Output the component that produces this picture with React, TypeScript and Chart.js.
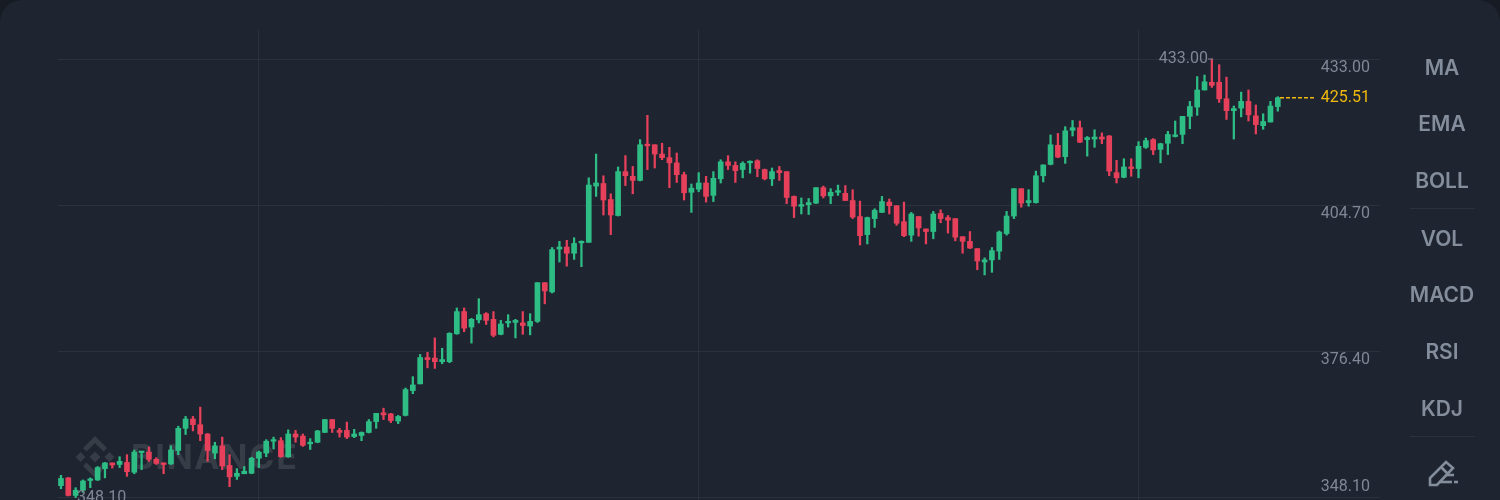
import { useEffect, useRef } from 'react';
import { Chart, registerables, type Plugin } from 'chart.js';

Chart.register(...registerables);

const opens = [
  350.4, 351.9, 348.5, 349.5, 351.4, 351.5, 353.7, 354.8, 354.5, 354.9,
  353.0, 356.8, 356.9, 355.5, 354.8, 354.6, 357.2, 361.5, 363.3, 362.2,
  360.4, 356.7, 358.1, 354.3, 352.2, 352.7, 352.8, 355.7, 356.7, 359.0,
  359.1, 356.0, 360.4, 360.0, 358.5, 358.8, 360.7, 363.2, 361.1, 361.1,
  359.9, 360.1, 360.7, 362.8, 364.5, 364.3, 362.9, 364.0, 368.8, 370.1,
  375.2, 375.1, 374.4, 374.4, 379.8, 384.1, 381.1, 382.5, 383.7, 382.6,
  379.7, 381.9, 382.0, 381.9, 381.3, 382.2, 389.7, 387.9, 396.2, 396.6,
  395.4, 397.4, 397.5, 408.4, 408.9, 405.8, 402.7, 411.2, 410.3, 409.5,
  416.4, 416.4, 414.6, 413.9, 412.9, 410.6, 407.2, 407.8, 409.0, 406.6,
  409.8, 413.1, 412.4, 411.6, 412.9, 413.3, 411.6, 409.8, 411.4, 411.2,
  406.4, 404.5, 404.8, 405.1, 408.1, 406.5, 407.2, 407.0, 405.6, 402.5,
  399.0, 402.1, 403.3, 405.3, 404.6, 401.5, 398.9, 402.5, 400.1, 399.6,
  403.1, 402.3, 402.1, 398.6, 397.7, 396.3, 393.7, 394.1, 395.8, 399.2,
  402.6, 407.9, 405.2, 405.2, 410.4, 412.6, 416.3, 414.1, 419.2, 419.7,
  417.4, 417.5, 417.9, 418.1, 411.0, 410.1, 412.1, 411.8, 415.9, 417.4,
  415.5, 416.7, 418.0, 418.4, 421.9, 423.7, 427.0, 428.5, 428.5, 425.3,
  423.0, 423.5, 424.8, 422.0, 420.1, 420.8, 423.8,
];

const closes = [
  351.8, 348.5, 349.5, 351.3, 351.7, 353.9, 354.8, 354.4, 355.1, 353.1,
  356.9, 357.0, 355.5, 354.7, 354.5, 357.3, 361.5, 363.3, 362.2, 360.4,
  357.2, 358.1, 354.2, 352.1, 352.8, 353.2, 355.7, 356.9, 359.0, 359.3,
  356.0, 360.4, 359.8, 358.2, 358.8, 361.0, 363.2, 361.5, 360.7, 359.8,
  360.4, 360.7, 362.8, 364.4, 364.1, 363.0, 363.8, 369.0, 369.9, 375.2,
  374.8, 374.4, 374.8, 379.9, 384.1, 380.9, 382.6, 383.5, 382.4, 379.5,
  381.7, 382.2, 382.4, 381.4, 382.2, 389.7, 388.1, 396.1, 396.6, 395.4,
  397.3, 397.7, 408.6, 409.0, 405.7, 402.8, 411.2, 410.4, 409.5, 416.4,
  416.2, 414.6, 413.9, 412.9, 410.6, 407.1, 408.0, 409.0, 406.4, 409.9,
  413.1, 412.4, 411.4, 412.8, 413.2, 411.8, 409.8, 411.2, 411.0, 406.2,
  404.5, 404.8, 405.2, 408.1, 406.5, 407.2, 407.5, 405.6, 402.4, 398.8,
  402.3, 403.7, 405.4, 404.6, 401.2, 398.8, 403.0, 400.3, 399.6, 403.0,
  402.1, 401.8, 398.5, 397.7, 396.4, 393.9, 394.1, 395.9, 399.5, 402.6,
  407.9, 405.1, 405.6, 410.4, 412.5, 416.4, 414.0, 419.1, 419.7, 416.9,
  417.8, 417.9, 417.5, 411.3, 410.0, 412.1, 411.8, 416.1, 417.2, 415.4,
  416.6, 418.4, 418.3, 421.9, 423.8, 427.0, 428.6, 427.9, 425.3, 423.0,
  423.4, 424.8, 422.2, 420.3, 420.9, 423.9, 425.51,
];

const highs = [
  352.4, 352.0, 350.0, 351.5, 351.9, 354.1, 354.9, 354.8, 356.0, 356.4,
  357.3, 357.0, 357.9, 355.8, 354.8, 358.1, 361.9, 363.8, 363.8, 365.6,
  360.5, 358.8, 359.8, 356.4, 353.7, 354.1, 355.9, 357.1, 359.3, 359.8,
  359.7, 361.2, 361.1, 360.4, 359.5, 361.1, 363.2, 363.2, 361.5, 362.7,
  361.3, 360.8, 363.2, 364.4, 365.4, 364.4, 364.0, 369.3, 371.5, 375.8,
  376.2, 379.0, 377.0, 380.0, 384.8, 384.8, 382.8, 386.6, 383.9, 384.1,
  382.4, 383.5, 382.6, 384.1, 383.7, 389.7, 389.7, 396.5, 397.7, 397.9,
  398.4, 397.8, 410.0, 414.6, 410.4, 406.9, 412.1, 414.3, 412.2, 417.4,
  422.1, 416.4, 416.7, 415.9, 414.8, 411.1, 408.8, 411.0, 410.3, 411.2,
  413.5, 414.3, 413.1, 413.1, 413.3, 413.5, 411.7, 411.9, 412.2, 411.2,
  406.5, 406.1, 406.0, 408.1, 408.4, 407.9, 408.6, 408.5, 407.7, 405.5,
  402.4, 404.0, 406.4, 405.9, 404.6, 405.3, 403.3, 402.5, 400.1, 403.5,
  403.8, 402.7, 402.1, 398.6, 399.6, 396.3, 394.5, 396.5, 399.7, 403.5,
  407.9, 407.9, 407.7, 411.3, 412.5, 418.3, 418.6, 419.9, 421.1, 421.0,
  418.0, 419.3, 418.7, 418.2, 413.4, 413.7, 413.7, 417.0, 417.7, 417.6,
  416.7, 419.0, 421.0, 421.9, 424.8, 429.6, 429.9, 433.0, 431.9, 429.5,
  423.9, 426.6, 427.0, 424.1, 422.4, 424.8, 425.7,
];

const lows = [
  349.8, 348.4, 348.1, 349.1, 350.0, 351.4, 351.9, 353.8, 353.9, 352.2,
  352.7, 353.5, 355.1, 354.5, 352.7, 354.5, 356.4, 360.3, 361.0, 359.1,
  355.1, 355.6, 353.5, 350.2, 351.6, 352.7, 352.7, 353.9, 356.0, 357.5,
  355.9, 355.9, 358.8, 358.0, 357.4, 358.7, 360.7, 360.7, 359.8, 359.5,
  359.7, 359.1, 360.6, 361.5, 363.2, 362.6, 362.4, 363.9, 368.2, 370.1,
  373.2, 373.1, 374.0, 374.2, 379.7, 380.2, 378.0, 381.9, 381.6, 379.2,
  379.6, 381.1, 379.0, 379.7, 379.6, 382.0, 385.6, 387.7, 393.7, 392.9,
  394.2, 392.8, 397.5, 406.4, 402.8, 399.0, 402.6, 408.5, 406.9, 409.4,
  411.6, 411.9, 413.5, 408.1, 409.1, 405.7, 403.3, 407.3, 405.3, 405.4,
  409.0, 411.6, 409.1, 410.0, 410.9, 410.2, 409.6, 408.5, 409.5, 405.0,
  402.3, 403.0, 402.9, 405.0, 406.1, 405.0, 406.6, 405.6, 402.1, 397.0,
  397.2, 400.4, 403.3, 403.0, 400.8, 398.6, 397.7, 398.7, 397.2, 398.2,
  401.3, 399.3, 397.8, 395.4, 396.3, 392.2, 391.2, 391.7, 394.2, 398.9,
  402.1, 404.3, 404.5, 405.1, 409.2, 412.5, 413.9, 412.8, 418.1, 416.8,
  414.2, 415.9, 416.6, 410.4, 409.0, 410.0, 410.3, 410.0, 415.7, 414.5,
  412.9, 414.5, 417.9, 416.6, 419.5, 422.1, 427.0, 427.5, 424.6, 421.3,
  417.5, 421.8, 421.0, 418.5, 419.4, 420.8, 422.9,
];

const priceTicks = [348.1, 376.4, 404.7, 433.0];
const timeTicks = [27, 87, 147];
const lastPrice = 425.51;
const highPrice = 433.0;
const lowPrice = 348.1;
const indicators = ['MA', 'EMA', 'BOLL', 'VOL', 'MACD', 'RSI', 'KDJ'];

const GREEN = '#2EBD85';
const RED = '#E6405B';
const GREY = '#7F8796';
const NAV_GREY = '#848D9C';
const GRID = '#2C323C';
const YELLOW = '#F0B90B';

const colors = opens.map((o, i) => (closes[i] >= o ? GREEN : RED));

const overlayPlugin: Plugin<'bar'> = {
  id: 'overlay',
  beforeDatasetsDraw(chart) {
    // faint watermark under the candles
    const { ctx } = chart;
    const cx = 95;
    const cy = 457;
    ctx.save();
    ctx.fillStyle = '#373D47';
    const diamond = (x: number, y: number, r: number) => {
      ctx.beginPath();
      ctx.moveTo(x, y - r);
      ctx.lineTo(x + r, y);
      ctx.lineTo(x, y + r);
      ctx.lineTo(x - r, y);
      ctx.closePath();
      ctx.fill();
    };
    diamond(cx, cy, 5.5);
    diamond(cx - 14.5, cy, 5);
    diamond(cx + 14.5, cy, 5);
    [-1, 1].forEach((s) => {
      ctx.beginPath();
      ctx.moveTo(cx, cy + s * 21);
      ctx.lineTo(cx + 12, cy + s * 9);
      ctx.lineTo(cx + 8.5, cy + s * 5.5);
      ctx.lineTo(cx, cy + s * 14);
      ctx.lineTo(cx - 8.5, cy + s * 5.5);
      ctx.lineTo(cx - 12, cy + s * 9);
      ctx.closePath();
      ctx.fill();
    });
    ctx.font = '700 34px Inter';
    ctx.textAlign = 'left';
    ctx.textBaseline = 'middle';
    (ctx as any).letterSpacing = '1.8px';
    ctx.fillText('BINANCE', 131, cy + 2);
    ctx.restore();
  },
  afterDatasetsDraw(chart) {
    const { ctx, scales } = chart;
    const y = scales.y;
    ctx.save();
    ctx.font = '16px Roboto';
    ctx.textBaseline = 'middle';

    // axis labels sit just under their grid line, the lowest one above it
    ctx.fillStyle = GREY;
    ctx.textAlign = 'right';
    priceTicks.forEach((p) => {
      const off = p === lowPrice ? -10.5 : 9;
      ctx.fillText(p.toFixed(2), 1370, y.getPixelForValue(p) + off);
    });

    // last price
    const lastY = y.getPixelForValue(lastPrice);
    ctx.strokeStyle = YELLOW;
    ctx.lineWidth = 1.4;
    ctx.setLineDash([4, 2]);
    ctx.beginPath();
    ctx.moveTo(1280, lastY);
    ctx.lineTo(1316, lastY);
    ctx.stroke();
    ctx.setLineDash([]);
    ctx.fillStyle = YELLOW;
    ctx.fillText(lastPrice.toFixed(2), 1370, lastY + 0.5);

    // high and low markers
    ctx.fillStyle = GREY;
    ctx.strokeStyle = GREY;
    ctx.lineWidth = 1;
    const highY = y.getPixelForValue(highPrice);
    ctx.fillText(highPrice.toFixed(2), 1208, highY);
    ctx.beginPath();
    ctx.moveTo(1208, highY);
    ctx.lineTo(1213, highY);
    ctx.stroke();
    ctx.textAlign = 'left';
    ctx.fillText(lowPrice.toFixed(2), 77, y.getPixelForValue(lowPrice));
    ctx.restore();
  },
};

export default function App() {
  const canvasRef = useRef<HTMLCanvasElement | null>(null);

  useEffect(() => {
    if (!canvasRef.current) return;

    const chart = new Chart(canvasRef.current, {
      type: 'bar',
      data: {
        datasets: [
          {
            label: 'Wick',
            data: highs.map((h, i) => ({ x: i, y: [lows[i], h] })) as any,
            backgroundColor: colors,
            barThickness: 1.6,
          },
          {
            label: 'Body',
            data: opens.map((o, i) => ({ x: i, y: [Math.min(o, closes[i]), Math.max(o, closes[i])] })) as any,
            backgroundColor: colors,
            barThickness: 5,
            minBarLength: 1.6,
          },
        ],
      },
      options: {
        responsive: false,
        animation: false,
        devicePixelRatio: 1,
        layout: { padding: { left: 58, right: 120, top: 30, bottom: 0 } },
        plugins: { legend: { display: false }, tooltip: { enabled: false } },
        datasets: { bar: { grouped: false } },
        scales: {
          x: {
            type: 'linear',
            offset: false,
            min: -0.406,
            max: 179.94,
            afterBuildTicks(scale) {
              scale.ticks = timeTicks.map((value) => ({ value }));
            },
            grid: { color: GRID, lineWidth: 1, drawTicks: false, offset: false },
            border: { display: false },
            ticks: { display: false },
          },
          y: {
            type: 'linear',
            min: 347.62,
            max: 438.62,
            afterBuildTicks(scale) {
              scale.ticks = priceTicks.map((value) => ({ value }));
            },
            grid: { color: GRID, lineWidth: 1, drawTicks: false },
            border: { display: false },
            ticks: { display: false },
          },
        },
      },
      plugins: [overlayPlugin],
    });

    return () => {
      chart.destroy();
    };
  }, []);

  return (
    <div style={{ position: 'relative', width: 1500, height: 500, background: '#171B23', overflow: 'hidden' }}>
      <style>{'body{margin:0}'}</style>
      <div style={{ position: 'absolute', inset: '0 0 -30px 0', background: '#1E2530', borderRadius: 22 }} />
      <canvas ref={canvasRef} width={1500} height={500} style={{ position: 'absolute', left: 0, top: 0, display: 'block' }} />
      {indicators.map((name, i) => (
        <div
          key={name}
          style={{
            position: 'absolute',
            left: 1384,
            width: 116,
            top: [54, 110, 167, 225, 281, 338, 395][i] + 0.5,
            height: 26,
            textAlign: 'center',
            font: '600 21px/26px Inter',
            color: NAV_GREY,
          }}
        >
          {name}
        </div>
      ))}
      <div style={{ position: 'absolute', left: 1410, width: 65, top: 208, height: 1, background: GRID }} />
      <div style={{ position: 'absolute', left: 1410, width: 65, top: 436, height: 1, background: GRID }} />
      <svg width={40} height={36} viewBox="0 0 40 36" style={{ position: 'absolute', left: 1422, top: 456 }}>
        <g fill="none" stroke={NAV_GREY} strokeWidth={2.6}>
          <path d="M8 29 V22 L24 6 L31 12 L15 29 Z" />
          <path d="M19 11 L26 18" />
          <path d="M17 26 H30" />
          <path d="M24 19 H32" />
          <path d="M32 26 H36" />
        </g>
      </svg>
    </div>
  );
}
